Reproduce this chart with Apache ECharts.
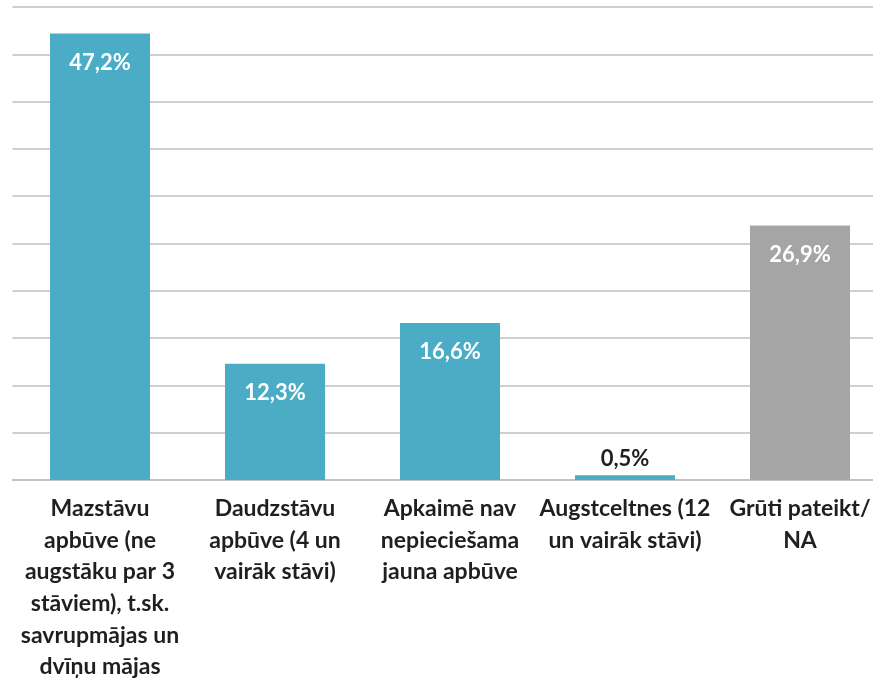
<!DOCTYPE html>
<html>
<head>
<meta charset="utf-8">
<script src="https://cdn.jsdelivr.net/npm/echarts@6/dist/echarts.min.js"></script>
<style>
html, body { margin: 0; padding: 0; background: #fff; }
#chart { width: 873px; height: 681px; }
</style>
</head>
<body>
<div id="chart"></div>
<script>
// kategorijas (ar rindu pārnesumiem kā oriģinālā)
const categories = [
    'Mazstāvu\napbūve (ne\naugstāku par 3\nstāviem), t.sk.\nsavrupmājas un\ndvīņu mājas',
    'Daudzstāvu\napbūve (4 un\nvairāk stāvi)',
    'Apkaimē nav\nnepieciešama\njauna apbūve',
    'Augstceltnes (12\nun vairāk stāvi)',
    'Grūti pateikt/\nNA'
]
const values = [47.2, 12.3, 16.6, 0.5, 26.9]
const barColors = ['#4bacc6', '#4bacc6', '#4bacc6', '#4bacc6', '#a5a5a5']

const fmt = v => v.toFixed(1).replace('.', ',') + '%'

const chart = echarts.init(document.getElementById('chart'))
chart.setOption({
    animation: false,
    grid: {
        left: 12.5, top: 7, right: -14.5, height: 473,
        containLabel: false, outerBoundsMode: 'none'
    },
    xAxis: {
        type: 'category',
        data: categories,
        axisLine: { lineStyle: { color: '#bfbfbf', width: 1.5 } },
        axisTick: { show: false },
        axisLabel: {
            interval: 0,
            margin: 13,
            color: '#1f1f1f',
            fontFamily: 'Lato',
            fontWeight: 'bold',
            fontSize: 23,
            lineHeight: 31.6
        }
    },
    yAxis: {
        type: 'value',
        min: 0,
        max: 50,
        interval: 5,
        axisLabel: { show: false },
        axisLine: { show: false },
        axisTick: { show: false },
        splitLine: { lineStyle: { color: '#bfbfbf', width: 1.5 } }
    },
    series: [{
        type: 'bar',
        barWidth: 100,
        data: values.map((v, i) => ({
            value: v,
            itemStyle: { color: barColors[i] },
            label: v < 3
                ? { position: 'top', color: '#1f1f1f', distance: 5 }
                : { position: 'insideTop', color: '#fff', distance: 18 }
        })),
        label: {
            show: true,
            fontFamily: 'Lato',
            fontWeight: 'bold',
            fontSize: 22,
            formatter: p => fmt(p.value)
        }
    }]
})
</script>
</body>
</html>
